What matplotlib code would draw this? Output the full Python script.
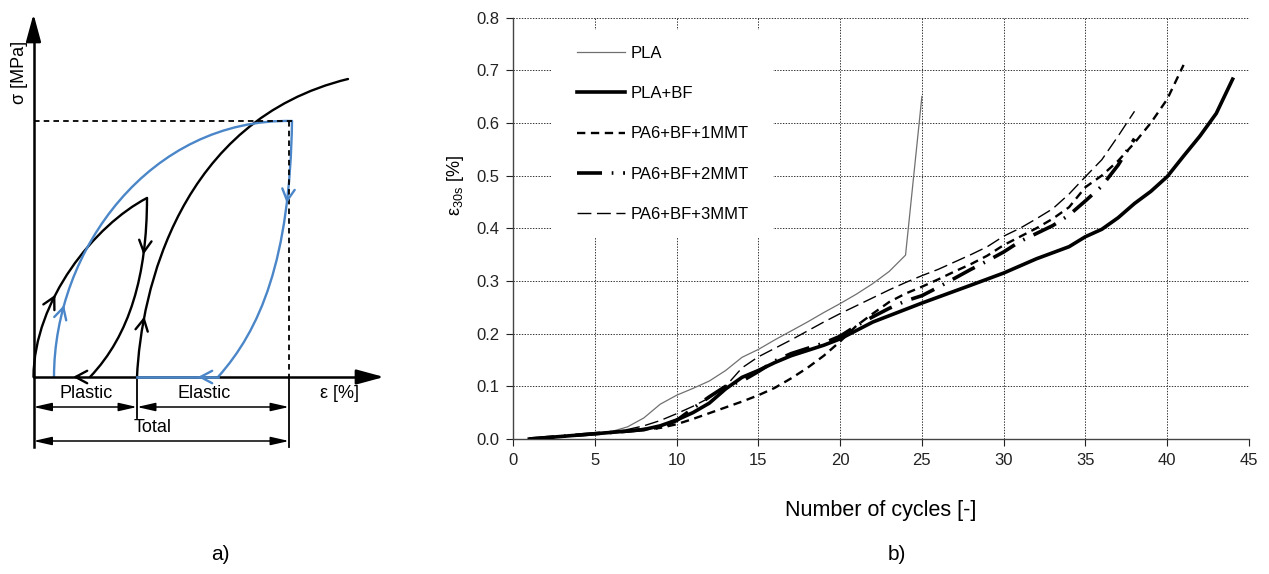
import numpy as np
import matplotlib
matplotlib.use('Agg')
import matplotlib.pyplot as plt
from matplotlib.path import Path
from matplotlib.patches import PathPatch, Rectangle

plt.rcParams['font.family'] = ['Liberation Sans', 'DejaVu Sans']
plt.rcParams['mathtext.fontset'] = 'custom'
plt.rcParams['mathtext.rm'] = 'Liberation Sans'
plt.rcParams['mathtext.it'] = 'Liberation Sans:italic'
plt.rcParams['mathtext.default'] = 'regular'
plt.rcParams['lines.scale_dashes'] = False

# ---- b) strain after 30 s vs number of cycles (read off the picture) ----
pla_x = [1, 3, 5, 6, 7, 8, 9, 10, 11, 12, 13, 14, 15, 16, 17, 18, 19, 20, 21, 22, 23, 24, 25]
pla_y = [0.0, 0.005, 0.010, 0.014, 0.023, 0.040, 0.066, 0.083, 0.096, 0.110, 0.130, 0.155,
         0.170, 0.188, 0.205, 0.222, 0.240, 0.257, 0.275, 0.295, 0.318, 0.349, 0.650]

plabf_x = [1, 3, 5, 7, 8, 9, 10, 11, 12, 13, 14, 15, 16, 17, 18, 19, 20, 22, 25, 28, 30,
           32, 34, 35, 36, 37, 38, 39, 40, 41, 42, 43, 44]
plabf_y = [0.0, 0.005, 0.010, 0.015, 0.018, 0.025, 0.036, 0.050, 0.068, 0.095, 0.117, 0.130,
           0.145, 0.158, 0.168, 0.178, 0.190, 0.222, 0.258, 0.292, 0.315, 0.342, 0.365, 0.384,
           0.398, 0.420, 0.447, 0.470, 0.498, 0.537, 0.575, 0.618, 0.683]

mmt1_x = [1, 5, 7, 8, 9, 10, 11, 12, 13, 14, 15, 16, 17, 18, 19, 20, 21, 22, 23, 24, 25, 26,
          27, 28, 29, 30, 31, 32, 33, 34, 35, 36, 37, 38, 39, 40, 41]
mmt1_y = [0.0, 0.010, 0.015, 0.018, 0.021, 0.028, 0.038, 0.049, 0.060, 0.071, 0.083, 0.097,
          0.115, 0.135, 0.158, 0.185, 0.215, 0.238, 0.260, 0.276, 0.289, 0.303, 0.318, 0.332,
          0.348, 0.368, 0.384, 0.400, 0.418, 0.440, 0.478, 0.500, 0.528, 0.562, 0.600, 0.645,
          0.710]

mmt2_x = [1, 5, 7, 8, 9, 10, 11, 12, 13, 14, 15, 16, 17, 18, 19, 20, 21, 22, 23, 24, 25, 26,
          27, 28, 29, 30, 31, 32, 33, 34, 35, 36, 37, 38]
mmt2_y = [0.0, 0.010, 0.015, 0.018, 0.022, 0.035, 0.058, 0.080, 0.100, 0.110, 0.128, 0.148,
          0.162, 0.172, 0.182, 0.195, 0.215, 0.232, 0.248, 0.262, 0.272, 0.288, 0.305, 0.322,
          0.338, 0.355, 0.375, 0.390, 0.405, 0.425, 0.452, 0.480, 0.520, 0.570]

mmt3_x = [1, 5, 7, 8, 9, 10, 11, 12, 13, 14, 15, 16, 17, 18, 19, 20, 21, 22, 23, 24, 25, 26,
          27, 28, 29, 30, 31, 32, 33, 34, 35, 36, 37, 38]
mmt3_y = [0.0, 0.010, 0.018, 0.025, 0.035, 0.048, 0.062, 0.078, 0.100, 0.135, 0.156, 0.172,
          0.188, 0.205, 0.222, 0.238, 0.253, 0.268, 0.283, 0.297, 0.310, 0.322, 0.336, 0.350,
          0.365, 0.385, 0.400, 0.418, 0.437, 0.465, 0.498, 0.530, 0.575, 0.622]

labels = ['PLA', 'PLA+BF', 'PA6+BF+1MMT', 'PA6+BF+2MMT', 'PA6+BF+3MMT']

# ---- a) schematic: bezier control points in pixel units of the left panel ----
small_load = [(33.5, 377), (34, 300), (95, 225), (147, 198)]
small_unload = [(147, 198), (147, 275), (130, 335), (90, 377)]
big_load = [(137, 377), (141, 290), (180, 120), (348, 79)]
blue_load = [(54, 377), (54, 250), (150, 118), (292, 121)]
blue_unload = [(292, 121), (290, 260), (260, 330), (218, 377)]

blue = '#4a86c8'


def bezier(pts, t):
    p = np.array(pts, dtype=float)
    pt = (1-t)**3*p[0] + 3*(1-t)**2*t*p[1] + 3*(1-t)*t**2*p[2] + t**3*p[3]
    d = 3*(1-t)**2*(p[1]-p[0]) + 6*(1-t)*t*(p[2]-p[1]) + 3*t**2*(p[3]-p[2])
    return pt, d / np.hypot(*d)


def curve(ax, pts, color):
    path = Path(pts, [Path.MOVETO, Path.CURVE4, Path.CURVE4, Path.CURVE4])
    ax.add_patch(PathPatch(path, fill=False, edgecolor=color, lw=1.7, capstyle='round'))


def chevron(ax, tip, d, color):
    tip = np.array(tip, dtype=float)
    ax.annotate('', xy=tip, xytext=tip - 6*np.array(d),
                arrowprops=dict(arrowstyle='->,head_length=0.6,head_width=0.32', color=color,
                                lw=1.7, shrinkA=0, shrinkB=0, mutation_scale=14))


def dim(ax, x0, x1, y):
    ax.annotate('', xy=(x0, y), xytext=(x1, y),
                arrowprops=dict(arrowstyle='<|-|>,head_length=1.1,head_width=0.25', color='black',
                                lw=1.1, shrinkA=0, shrinkB=0, mutation_scale=10))


fig = plt.figure(figsize=(12.69, 5.74), dpi=100)

# left schematic
axa = fig.add_axes([0, 0, 400/1269, 1])
axa.set_xlim(0, 400)
axa.set_ylim(574, 0)
axa.axis('off')

# axes arrows
axa.plot([33.5, 33.5], [447, 30], color='black', lw=1.8)
axa.annotate('', xy=(33.5, 14), xytext=(33.5, 40),
             arrowprops=dict(arrowstyle='-|>,head_length=1.4,head_width=0.38', color='black',
                             lw=1.8, shrinkA=0, shrinkB=0, mutation_scale=12))
axa.plot([33.5, 370], [377, 377], color='black', lw=1.8)
axa.annotate('', xy=(384, 377), xytext=(360, 377),
             arrowprops=dict(arrowstyle='-|>,head_length=1.4,head_width=0.38', color='black',
                             lw=1.8, shrinkA=0, shrinkB=0, mutation_scale=12))

# dashed guides
axa.plot([33.5, 292], [121, 121], color='black', lw=1.3, ls=(0, (4, 3)))
axa.plot([289, 289], [121, 377], color='black', lw=1.3, ls=(0, (4, 3)))
axa.plot([289, 289], [377, 447], color='black', lw=1.3)
axa.plot([137, 137], [377, 418], color='black', lw=1.3)

curve(axa, small_load, 'black')
curve(axa, small_unload, 'black')
curve(axa, big_load, 'black')
curve(axa, blue_load, blue)
curve(axa, blue_unload, blue)
axa.plot([137, 218], [377, 377], color=blue, lw=1.9)

for pts, t, c in [(small_load, 0.37, 'black'), (small_unload, 0.26, 'black'),
                  (big_load, 0.2, 'black'), (blue_load, 0.19, blue),
                  (blue_unload, 0.22, blue)]:
    p, d = bezier(pts, t)
    chevron(axa, p, d, c)
chevron(axa, (73, 377), (-1, 0), 'black')
chevron(axa, (198, 377), (-1, 0), blue)

dim(axa, 33.5, 137, 407)
dim(axa, 137, 289, 407)
dim(axa, 33.5, 289, 441)

axa.text(86, 394, 'Plastic', fontsize=13, ha='center', va='center')
axa.text(204, 394, 'Elastic', fontsize=13, ha='center', va='center')
axa.text(153, 428, 'Total', fontsize=13, ha='center', va='center')
axa.text(339, 394, 'ε [%]', fontsize=13, ha='center', va='center')
axa.text(19, 72, 'σ [MPa]', fontsize=13, ha='center', va='center', rotation=90)
axa.text(220, 555, 'a)', fontsize=15, ha='center', va='center')

# right chart
ax = fig.add_axes([513/1269, 1 - 439/574, 736/1269, 421.5/574])
ax.set_axisbelow(True)
ax.plot(pla_x, pla_y, color='#707070', lw=0.9, label=labels[0], zorder=3)
ax.plot(plabf_x, plabf_y, color='black', lw=2.6, label=labels[1], zorder=3)
ax.plot(mmt1_x, mmt1_y, color='black', lw=1.7, ls=(0, (6, 4)), label=labels[2], zorder=3)
ax.plot(mmt2_x, mmt2_y, color='black', lw=2.6, ls=(0, (18, 7, 1.2, 7)), label=labels[3],
        zorder=3)
ax.plot(mmt3_x, mmt3_y, color='black', lw=1.0, ls=(0, (10, 4)), label=labels[4], zorder=3)

ax.set_xlim(0, 45)
ax.set_ylim(0, 0.8)
ax.set_xticks(np.arange(0, 46, 5))
ax.set_yticks(np.arange(0, 0.81, 0.1))
ax.set_yticklabels(['%.1f' % v for v in np.arange(0, 0.81, 0.1)])
ax.grid(True, color='#333333', lw=0.7, ls=(0, (1, 1)))
for s in ['top', 'right']:
    ax.spines[s].set_visible(False)
for s in ['left', 'bottom']:
    ax.spines[s].set_color('#444444')
    ax.spines[s].set_linewidth(1.0)
ax.tick_params(labelsize=12, colors='#222222', length=5, width=0.8, pad=5)

ax.add_patch(Rectangle((0.053, 0.479), 0.30, 0.491, transform=ax.transAxes,
                       facecolor='white', edgecolor='none', zorder=1))
ax.legend(loc='upper left', bbox_to_anchor=(0.087, 0.933), frameon=False, fontsize=12,
          handlelength=2.9, handletextpad=0.3, labelspacing=1.52, borderpad=0,
          borderaxespad=0)

ax.set_xlabel('Number of cycles [-]', fontsize=15.5)
ax.xaxis.set_label_coords(0.5, -0.145)
ax.set_ylabel('ε$_{30s}$ [%]', fontsize=13)
ax.yaxis.set_label_coords(-0.064, 0.6)

fig.text(897/1269, 1 - 555/574, 'b)', fontsize=15, ha='center', va='center')

fig.savefig('out.png', dpi=100)
